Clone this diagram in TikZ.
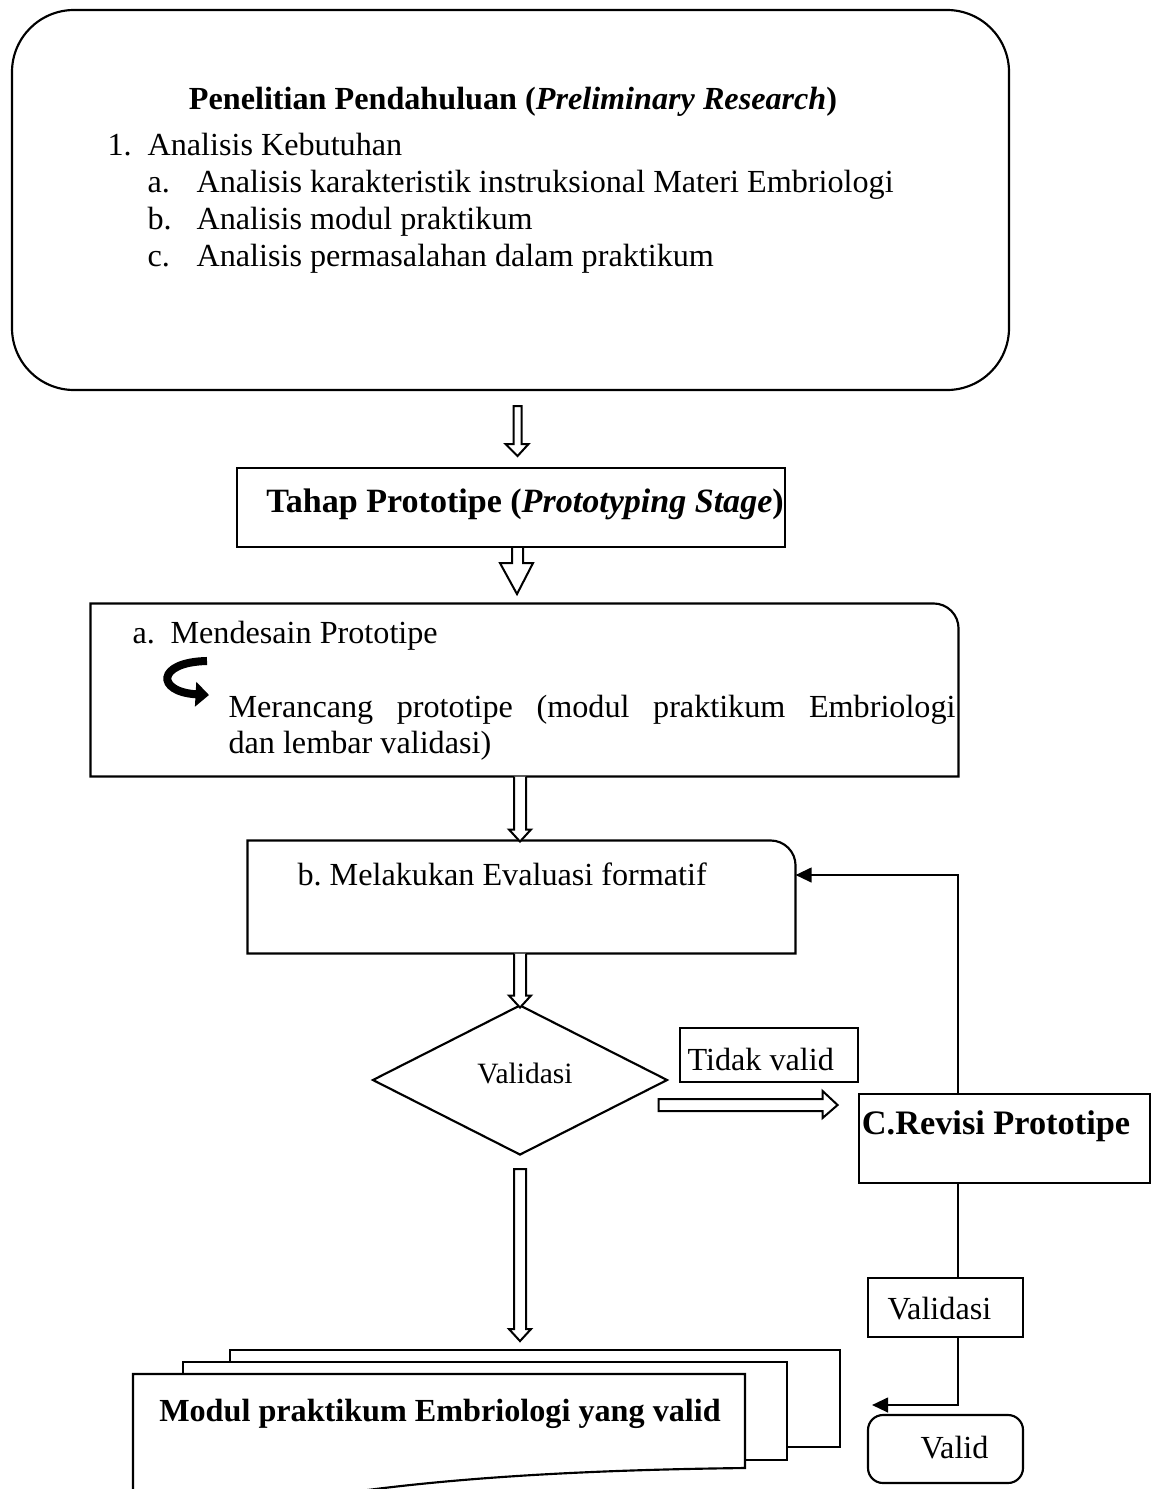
\documentclass[tikz,border=0pt]{standalone}
\usepackage{fontspec}
\setmainfont{Liberation Serif}
\usetikzlibrary{arrows.meta,shapes.geometric,fit,positioning}
\newdimen\pxu \pxu=0.0131cm

\begin{document}
\begin{tikzpicture}[x=0.0131cm,y=-0.0131cm,
   box/.style={draw,line width=0.8pt,inner sep=0pt},
   txt/.style={inner sep=0pt,anchor=base west,font=\fontsize{12}{15}\selectfont},
   btxt/.style={txt,font=\fontsize{12}{15}\selectfont\bfseries},
   ln/.style={line width=0.8pt},
   blk/.style={line width=0.75pt,fill=white},
   fline/.style={line width=0.8pt,-{Triangle[length=6pt,width=5.5pt]}}]

\useasboundingbox (0,0) rectangle (1160,1489);
\clip (0,0) rectangle (1160,1489);

% penelitian pendahuluan
\node[box,rounded corners=62*\pxu,fit={(12,10) (1009,390)}] (prelim) {};
\node[btxt,anchor=base] (judul) at (513,109) {Penelitian Pendahuluan (\textit{Preliminary Research})};
\node[txt] (n1) at (107,155) {1.};
\node[txt] (keb) at (147,155) {Analisis Kebutuhan};
\foreach \i/\y/\t in {a/192/{Analisis karakteristik instruksional Materi Embriologi},
                      b/229/{Analisis modul praktikum},
                      c/266/{Analisis permasalahan dalam praktikum}}{
   \node[txt] (h\i) at (147,\y) {\i.};
   \node[txt] (an\i) at (196,\y) {\t};
}

% tahap prototipe
\node[box,fit={(237,468) (785,547)}] (proto) {};
\node[btxt,anchor=base,font=\fontsize{12.7}{15}\selectfont\bfseries] (tproto) at (525,512) {Tahap Prototipe (\textit{Prototyping Stage})};

% mendesain prototipe
\node[inner sep=0pt,fit={(91,604) (958,776)}] (des) {};
\draw[ln] (des.south west) -- (des.north west) -- ([xshift=-25*\pxu]des.north east)
   arc[start angle=90,end angle=0,radius=25*\pxu] -- (des.south east) -- cycle;
\node[txt] (ha) at (132,643) {a.};
\node[txt] (mdes) at (170,643) {Mendesain Prototipe};
\draw[line width=3pt,-{Triangle[length=5pt,width=9pt]}] (207,661) .. controls (156,662) and (156,692) .. (209,695);
\node[txt] (mer1) at (228,717) {\makebox[727\pxu][s]{Merancang prototipe (modul praktikum Embriologi}};
\node[txt] (mer2) at (228,753) {dan lembar validasi)};

% evaluasi formatif
\node[inner sep=0pt,fit={(248,841) (795,953)}] (eval) {};
\draw[ln] (eval.south west) -- (eval.north west) -- ([xshift=-25*\pxu]eval.north east)
   arc[start angle=90,end angle=0,radius=25*\pxu] -- (eval.south east) -- cycle;
\node[txt] (teval) at (297,885) {b.\ Melakukan Evaluasi formatif};

% validasi
\node[box,diamond,minimum width=295*\pxu,minimum height=150*\pxu] (val) at (520,1080) {};
\node[txt,anchor=base,font=\fontsize{11}{13}\selectfont] (tval) at (525,1083) {Validasi};
\node[box,fit={(680,1028) (858,1082)}] (tidak) {};
\node[txt] (ttidak) at (687,1070) {Tidak valid};
\node[box,fit={(859,1094) (1150,1183)}] (rev) {};
\node[btxt,anchor=base,font=\fontsize{12.8}{15}\selectfont\bfseries] (trev) at (996,1134) {C.Revisi Prototipe};
\node[box,fit={(868,1278) (1023,1337)}] (vbox) {};
\node[txt] (tvbox) at (887,1319) {Validasi};
\node[box,rounded corners=15*\pxu,fit={(868,1415) (1023,1483)}] (valid) {};
\node[txt] (tvalid) at (920,1458) {Valid};

% modul (tumpukan dokumen)
\draw[ln] (230,1362) |- (840,1350) |- (787,1447);
\draw[ln] (183,1374) |- (787,1362) |- (745,1460);
\draw[ln,fill=white] (133,1500) -- (133,1374) -- (745,1374) -- (745,1468)
   .. controls (580,1470) and (430,1478) .. (300,1500);
\node[btxt,anchor=base] (modul) at (440,1421) {Modul praktikum Embriologi yang valid};

% panah
\draw[blk] (prelim.south) ++(3,15) -- ++(0,38) -- ++(-8,0) -- ++(12,12)
   -- ++(11,-12) -- ++(-7,0) -- ++(0,-38) -- cycle;
\draw[blk] (proto.south) ++(1,0) -- ++(0,15) -- ++(-12,0) -- ++(17,31)
   -- ++(16,-31) -- ++(-10,0) -- ++(0,-15);
\draw[blk] (des.south -| val) ++(-6,0) -- ++(0,53) -- ++(-5,0) -- ++(11,12)
   -- ++(11,-12) -- ++(-5,0) -- ++(0,-53);
\draw[blk] (eval.south -| val) ++(-6,0) -- ++(0,42) -- ++(-5,0) -- ++(11,12)
   -- ++(11,-12) -- ++(-5,0) -- ++(0,-42);
\draw[blk] (val.south) ++(-6,13) -- ++(0,160) -- ++(-5,0) -- ++(11,12)
   -- ++(11,-12) -- ++(-5,0) -- ++(0,-160) -- cycle;
\draw[blk] (val.east) ++(-10,19) -- ++(164,0) -- ++(0,-8) -- ++(15,14)
   -- ++(-15,13) -- ++(0,-7) -- ++(-164,0) -- cycle;

\coordinate (fb) at (958,875);
\draw[fline] (rev.north -| fb) -- (fb) -- (eval.east |- fb);
\draw[line width=0.4pt] (rev.south -| fb) -- (vbox.north -| fb);
\coordinate (vin) at (872,1405);
\draw[fline] (vbox.south -| fb) |- (vin);
\end{tikzpicture}
\end{document}
